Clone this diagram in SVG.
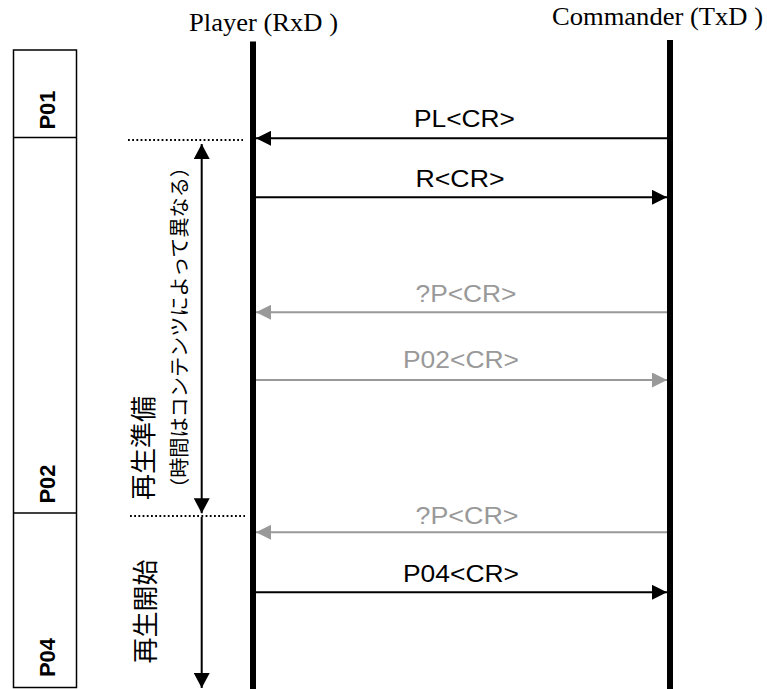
<svg xmlns="http://www.w3.org/2000/svg" width="767" height="689" viewBox="0 0 767 689">
<defs>
<style>
.hdr{font-family:"Liberation Serif","Times New Roman",serif;font-size:25.5px;fill:#000}
.msg{font-family:"Liberation Sans",Arial,sans-serif;font-size:24px}
.blk{fill:#000}
.gry{fill:#999}
.ph{font-family:"Liberation Sans",Arial,sans-serif;font-size:22px;font-weight:bold;fill:#000}
.jp{font-family:"Noto Sans CJK JP","Noto Sans CJK SC",sans-serif;fill:#000}
.life{stroke:#000;stroke-width:6}
.ml{stroke-width:2;fill:none}
.dot{stroke:#000;stroke-width:2;stroke-dasharray:1.8 2.4;fill:none}
</style>
<marker id="ab" markerUnits="userSpaceOnUse" markerWidth="15" markerHeight="15" refX="15" refY="7.5" orient="auto"><path d="M0,0 L15,7.5 L0,15 z" fill="#000"/></marker>
<marker id="ag" markerUnits="userSpaceOnUse" markerWidth="15" markerHeight="15" refX="15" refY="7.5" orient="auto"><path d="M0,0 L15,7.5 L0,15 z" fill="#999"/></marker>
<marker id="av" markerUnits="userSpaceOnUse" markerWidth="15" markerHeight="16" refX="15" refY="8" orient="auto-start-reverse"><path d="M0,0 L15,8 L0,16 z" fill="#000"/></marker>
</defs>

<g id="phases">
<rect x="13.5" y="50" width="63" height="637.5" fill="none" stroke="#000" stroke-width="1.5"/>
<line x1="13.5" y1="137.5" x2="76.5" y2="137.5" stroke="#000" stroke-width="1.5"/>
<line x1="13.5" y1="513" x2="76.5" y2="513" stroke="#000" stroke-width="1.5"/>
<text class="ph" transform="translate(55,110) rotate(-90)" text-anchor="middle">P01</text>
<text class="ph" transform="translate(55,484) rotate(-90)" text-anchor="middle">P02</text>
<text class="ph" transform="translate(55,657.5) rotate(-90)" text-anchor="middle">P04</text>
</g>

<g id="player">
<text class="hdr" x="189" y="31" textLength="149" lengthAdjust="spacingAndGlyphs">Player (RxD )</text>
<line class="life" x1="253" y1="41.5" x2="253" y2="689"/>
</g>

<g id="commander">
<text class="hdr" x="552" y="25" textLength="211" lengthAdjust="spacingAndGlyphs">Commander (TxD )</text>
<line class="life" x1="670" y1="40" x2="670" y2="689"/>
</g>

<g id="labels">
<text class="jp" font-size="26" transform="translate(153,448) rotate(-90)" text-anchor="middle" textLength="104" lengthAdjust="spacingAndGlyphs">再生準備</text>
<text class="jp" font-size="20" transform="translate(186.5,327.5) rotate(-90)" text-anchor="middle" textLength="341" lengthAdjust="spacingAndGlyphs">（時間はコンテンツによって異なる）</text>
<text class="jp" font-size="26" transform="translate(155,611.5) rotate(-90)" text-anchor="middle" textLength="104" lengthAdjust="spacingAndGlyphs">再生開始</text>
</g>

<g id="connectors">
<line class="dot" x1="128" y1="140" x2="243" y2="140"/>
<line class="dot" x1="130" y1="516" x2="245" y2="516"/>
<line stroke="#000" stroke-width="2" x1="201.7" y1="144" x2="201.7" y2="513.3" marker-start="url(#av)" marker-end="url(#av)"/>
<line stroke="#000" stroke-width="2" x1="201.7" y1="517" x2="201.7" y2="688" marker-end="url(#av)"/>

<line class="ml" stroke="#000" x1="667" y1="138.3" x2="256" y2="138.3" marker-end="url(#ab)"/>
<text class="msg blk" x="414" y="127.3" textLength="101" lengthAdjust="spacingAndGlyphs">PL&lt;CR&gt;</text>

<line class="ml" stroke="#000" x1="256" y1="197.3" x2="667" y2="197.3" marker-end="url(#ab)"/>
<text class="msg blk" x="415.5" y="187.3" textLength="89" lengthAdjust="spacingAndGlyphs">R&lt;CR&gt;</text>

<line class="ml" stroke="#999" x1="667" y1="312.3" x2="256" y2="312.3" marker-end="url(#ag)"/>
<text class="msg gry" x="415.5" y="301.7" textLength="101" lengthAdjust="spacingAndGlyphs">?P&lt;CR&gt;</text>

<line class="ml" stroke="#999" x1="256" y1="380" x2="667" y2="380" marker-end="url(#ag)"/>
<text class="msg gry" x="403" y="367.7" textLength="116" lengthAdjust="spacingAndGlyphs">P02&lt;CR&gt;</text>

<line class="ml" stroke="#999" x1="667" y1="532.3" x2="256" y2="532.3" marker-end="url(#ag)"/>
<text class="msg gry" x="415.5" y="524" textLength="103" lengthAdjust="spacingAndGlyphs">?P&lt;CR&gt;</text>

<line class="ml" stroke="#000" x1="256" y1="592.3" x2="667" y2="592.3" marker-end="url(#ab)"/>
<text class="msg blk" x="403" y="581.7" textLength="116" lengthAdjust="spacingAndGlyphs">P04&lt;CR&gt;</text>
</g>
</svg>
